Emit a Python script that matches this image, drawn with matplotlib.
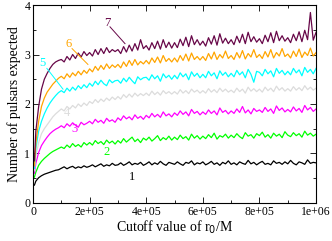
import matplotlib
matplotlib.use("Agg")
import matplotlib.pyplot as plt
from matplotlib.ticker import MultipleLocator

plt.rcParams["font.family"] = ["Liberation Serif", "DejaVu Serif"]

# ── Data ──────────────────────────────────────────────────────────────────────

X_EARLY = [5e3, 1e4, 2e4, 3e4, 4e4, 5e4, 6e4, 7e4, 8e4, 9e4]
X_MAIN = [1e5 + 1e4 * i for i in range(91)]
R0 = X_EARLY + X_MAIN

N1 = [0.36, 0.44, 0.51, 0.55, 0.58, 0.60, 0.62, 0.64, 0.66, 0.67,
      0.70, 0.73, 0.69, 0.72, 0.74, 0.70, 0.73, 0.71, 0.75, 0.72,
      0.74, 0.77, 0.73, 0.76, 0.79, 0.74, 0.77, 0.75, 0.80, 0.76,
      0.77, 0.81, 0.76, 0.79, 0.83, 0.77, 0.80, 0.78, 0.82, 0.76,
      0.79, 0.83, 0.77, 0.81, 0.78, 0.84, 0.79, 0.76, 0.82, 0.80,
      0.78, 0.83, 0.79, 0.76, 0.82, 0.80, 0.85, 0.77, 0.81, 0.79,
      0.83, 0.77, 0.80, 0.84, 0.78, 0.81, 0.76, 0.82, 0.79, 0.85,
      0.78, 0.81, 0.77, 0.83, 0.80, 0.78, 0.86, 0.79, 0.82, 0.77,
      0.81, 0.84, 0.78, 0.80, 0.77, 0.85, 0.80, 0.82, 0.78, 0.83,
      0.79, 0.86, 0.80, 0.77, 0.83, 0.81, 0.78, 0.87, 0.80, 0.82, 0.81]

N2 = [0.52, 0.62, 0.76, 0.84, 0.90, 0.95, 1.00, 1.04, 1.07, 1.10,
      1.13, 1.10, 1.17, 1.12, 1.20, 1.14, 1.18, 1.13, 1.22, 1.17,
      1.22, 1.17, 1.26, 1.20, 1.24, 1.18, 1.27, 1.21, 1.25, 1.19,
      1.26, 1.21, 1.30, 1.23, 1.28, 1.33, 1.24, 1.29, 1.22, 1.31,
      1.27, 1.33, 1.25, 1.30, 1.36, 1.26, 1.32, 1.28, 1.35, 1.27,
      1.33, 1.28, 1.37, 1.30, 1.34, 1.27, 1.39, 1.31, 1.36, 1.29,
      1.35, 1.30, 1.38, 1.32, 1.41, 1.29, 1.36, 1.33, 1.39, 1.31,
      1.37, 1.32, 1.40, 1.34, 1.30, 1.42, 1.35, 1.38, 1.31, 1.40,
      1.36, 1.43, 1.33, 1.38, 1.31, 1.41, 1.35, 1.39, 1.32, 1.44,
      1.37, 1.34, 1.42, 1.36, 1.40, 1.33, 1.45, 1.37, 1.41, 1.35, 1.39]

N3 = [0.60, 0.80, 1.02, 1.16, 1.25, 1.33, 1.40, 1.45, 1.49, 1.52,
      1.56, 1.52, 1.60, 1.55, 1.62, 1.57, 1.53, 1.63, 1.58, 1.61,
      1.65, 1.60, 1.69, 1.63, 1.67, 1.61, 1.71, 1.65, 1.68, 1.63,
      1.72, 1.67, 1.76, 1.70, 1.74, 1.68, 1.78, 1.71, 1.75, 1.69,
      1.77, 1.72, 1.81, 1.74, 1.79, 1.73, 1.84, 1.76, 1.80, 1.74,
      1.82, 1.77, 1.86, 1.79, 1.84, 1.76, 1.89, 1.81, 1.85, 1.78,
      1.84, 1.79, 1.88, 1.81, 1.86, 1.78, 1.92, 1.83, 1.87, 1.80,
      1.86, 1.81, 1.90, 1.83, 1.95, 1.82, 1.88, 1.80, 1.91, 1.85,
      1.88, 1.83, 1.93, 1.85, 1.90, 1.81, 1.96, 1.87, 1.92, 1.84,
      1.89, 1.84, 1.94, 1.86, 1.91, 1.83, 1.97, 1.88, 1.93, 1.85, 1.90]

N4 = [0.65, 0.95, 1.22, 1.40, 1.50, 1.58, 1.66, 1.74, 1.80, 1.85,
      1.90, 1.86, 1.95, 1.90, 1.97, 1.92, 2.00, 1.95, 2.02, 1.97,
      2.05, 2.01, 2.09, 2.03, 2.10, 2.05, 2.12, 2.07, 2.14, 2.09,
      2.15, 2.10, 2.19, 2.13, 2.20, 2.14, 2.22, 2.16, 2.21, 2.17,
      2.22, 2.17, 2.26, 2.19, 2.24, 2.18, 2.27, 2.21, 2.25, 2.20,
      2.25, 2.20, 2.29, 2.22, 2.27, 2.21, 2.30, 2.24, 2.28, 2.22,
      2.27, 2.22, 2.31, 2.24, 2.29, 2.23, 2.32, 2.25, 2.30, 2.24,
      2.28, 2.23, 2.32, 2.25, 2.30, 2.22, 2.34, 2.26, 2.31, 2.25,
      2.30, 2.24, 2.34, 2.27, 2.32, 2.25, 2.36, 2.28, 2.33, 2.26,
      2.31, 2.26, 2.35, 2.28, 2.33, 2.27, 2.37, 2.29, 2.34, 2.28, 2.32]

N5 = [0.70, 1.10, 1.45, 1.65, 1.80, 1.92, 2.02, 2.10, 2.17, 2.23,
      2.27, 2.23, 2.32, 2.26, 2.34, 2.28, 2.37, 2.31, 2.39, 2.33,
      2.42, 2.36, 2.46, 2.39, 2.48, 2.41, 2.37, 2.49, 2.43, 2.47,
      2.48, 2.42, 2.52, 2.45, 2.54, 2.47, 2.41, 2.55, 2.49, 2.53,
      2.54, 2.48, 2.59, 2.51, 2.57, 2.46, 2.61, 2.53, 2.58, 2.50,
      2.58, 2.51, 2.63, 2.55, 2.61, 2.49, 2.65, 2.56, 2.62, 2.53,
      2.60, 2.53, 2.66, 2.57, 2.63, 2.51, 2.67, 2.58, 2.64, 2.55,
      2.62, 2.55, 2.68, 2.59, 2.65, 2.53, 2.70, 2.60, 2.44, 2.66,
      2.64, 2.57, 2.70, 2.61, 2.67, 2.55, 2.72, 2.62, 2.68, 2.59,
      2.66, 2.59, 2.72, 2.63, 2.69, 2.57, 2.74, 2.64, 2.70, 2.61, 2.72]

N6 = [0.75, 1.20, 1.65, 1.95, 2.12, 2.24, 2.32, 2.40, 2.46, 2.52,
      2.56, 2.51, 2.61, 2.54, 2.63, 2.57, 2.66, 2.59, 2.68, 2.62,
      2.71, 2.65, 2.76, 2.68, 2.78, 2.70, 2.81, 2.72, 2.79, 2.74,
      2.80, 2.73, 2.85, 2.76, 2.88, 2.78, 2.90, 2.79, 2.86, 2.81,
      2.88, 2.81, 2.93, 2.84, 2.95, 2.83, 2.98, 2.86, 2.92, 2.85,
      2.93, 2.85, 2.98, 2.88, 3.01, 2.87, 3.03, 2.90, 2.96, 2.89,
      2.96, 2.88, 3.02, 2.91, 3.05, 2.90, 3.00, 2.93, 3.07, 2.92,
      2.98, 2.90, 3.04, 2.93, 3.08, 2.91, 3.02, 2.95, 3.10, 2.94,
      3.00, 2.92, 3.06, 2.95, 3.10, 2.93, 3.04, 2.97, 3.12, 2.96,
      3.01, 2.93, 3.07, 2.96, 3.11, 2.94, 3.05, 2.98, 3.13, 2.97, 3.04]

N7 = [0.85, 1.45, 1.95, 2.30, 2.50, 2.62, 2.72, 2.80, 2.85, 2.88,
      2.90, 2.85, 2.96, 2.89, 3.00, 2.92, 3.03, 2.95, 3.06, 2.98,
      3.04, 2.97, 3.10, 3.00, 3.12, 3.02, 3.14, 3.04, 3.10, 3.06,
      3.10, 3.02, 3.16, 3.05, 3.19, 3.07, 3.22, 3.09, 3.30, 3.12,
      3.18, 3.09, 3.24, 3.12, 3.27, 3.11, 3.30, 3.14, 3.25, 3.13,
      3.24, 3.14, 3.31, 3.18, 3.35, 3.16, 3.38, 3.20, 3.30, 3.19,
      3.27, 3.17, 3.34, 3.21, 3.38, 3.19, 3.42, 3.23, 3.33, 3.22,
      3.30, 3.20, 3.37, 3.24, 3.41, 3.22, 3.45, 3.26, 3.36, 3.25,
      3.32, 3.22, 3.39, 3.26, 3.44, 3.24, 3.47, 3.28, 3.38, 3.27,
      3.34, 3.24, 3.41, 3.28, 3.46, 3.26, 3.49, 3.30, 3.85, 3.29, 3.45]

SERIES = [N1, N2, N3, N4, N5, N6, N7]
LABELS = ["1", "2", "3", "4", "5", "6", "7"]
COLORS = ["black", "#00ff00", "#ff00ff", "#dcdcdc", "#00ffff", "#ffa500", "#670748"]

# label position (x, y) in data units, optional leader line end
LABEL_POS = [(3.5e5, 0.52), (2.6e5, 1.02), (1.48e5, 1.5), (1.2e5, 1.82),
             (3.2e4, 2.82), (1.27e5, 3.22), (2.61e5, 3.64)]
LEADERS = {4: ((4.9e4, 2.72), (1.06e5, 2.30)),
           5: ((1.38e5, 3.12), (1.94e5, 2.80)),
           6: ((2.72e5, 3.56), (3.25e5, 3.22))}

# ── Plot ──────────────────────────────────────────────────────────────────────

fig = plt.figure(figsize=(3.32, 2.41), dpi=100)
ax = fig.add_axes([0.0994, 0.158, 0.8526, 0.821])

for vals, col in zip(SERIES, COLORS):
    ax.plot(R0, vals, color=col, lw=0.9)

for i, (lab, col) in enumerate(zip(LABELS, COLORS)):
    x, y = LABEL_POS[i]
    ax.text(x, y, lab, color=col, fontsize=9, ha="center", va="center")
    if i in LEADERS:
        (x0, y0), (x1, y1) = LEADERS[i]
        ax.plot([x0, x1], [y0, y1], color=col, lw=0.7)

ax.set_xlim(0, 1e6)
ax.set_ylim(0, 4)
ax.xaxis.set_minor_locator(MultipleLocator(1e5))
ax.yaxis.set_major_locator(MultipleLocator(1))
ax.yaxis.set_minor_locator(MultipleLocator(0.5))
ax.set_xticks([0, 2e5, 4e5, 6e5, 8e5, 1e6])
ax.set_xticklabels(["0", "2e+05", "4e+05", "6e+05", "8e+05", "1e+06"])
ax.tick_params(which="both", direction="in", top=True, right=True,
               labelsize=8.5, width=0.6, pad=2)
ax.tick_params(which="major", length=4)
ax.tick_params(which="minor", length=2)
for sp in ax.spines.values():
    sp.set_linewidth(0.8)

ax.set_xlabel("Cutoff value of r$_0$/M", fontsize=10, labelpad=1)
ax.set_ylabel("Number of pulsars expected", fontsize=10, labelpad=2)

fig.savefig("out.png", dpi=100)
